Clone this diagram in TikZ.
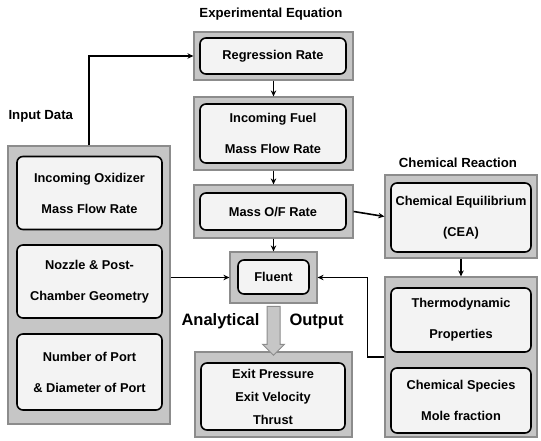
\documentclass[tikz,border=0pt]{standalone}
\usepackage{fontspec}
\setmainfont{Liberation Sans}
\usetikzlibrary{arrows.meta,positioning,shapes.arrows,calc}
\definecolor{bandc}{HTML}{C6C6C6}
\definecolor{bandl}{HTML}{8C8C8C}
\definecolor{cellc}{HTML}{F3F3F3}
\tikzset{
  band/.style={rectangle, draw=bandl, line width=1.2pt, fill=bandc, inner sep=0pt},
  cell/.style={rectangle, rounded corners=6pt, draw=black, line width=1.6pt, fill=cellc,
    align=center, inner sep=0pt, font=\bfseries\fontsize{12.8}{31}\selectfont},
  head/.style={font=\bfseries\fontsize{13.2}{15}\selectfont},
  tag/.style={font=\bfseries\fontsize{16.5}{18}\selectfont},
  link/.style={-{Stealth[length=6pt,width=5.5pt]}, line width=1.6pt},
  fat/.style={single arrow, draw=bandl, fill=bandc, line width=1pt, inner sep=6pt,
    single arrow head extend=4.5pt, single arrow head indent=0pt, shape border rotate=270},
}

\begin{document}
\begin{tikzpicture}[x=1pt, y=-1pt]
  \useasboundingbox (0,0) rectangle (541,441);
  % grey frames
  \node[band, minimum width=162, minimum height=278] (inp) at (89,285) {};
  \node[band, minimum width=159, minimum height=48] (rrB) at (273.5,56) {};
  \node[band, minimum width=159, minimum height=73] (fuelB) at (273.5,133.5) {};
  \node[band, minimum width=159, minimum height=53] (ofB) at (273.5,211.5) {};
  \node[band, minimum width=87, minimum height=51] (fluB) at (273.5,277.5) {};
  \node[band, minimum width=157, minimum height=85] (outB) at (273.5,394.5) {};
  \node[band, minimum width=152, minimum height=83] (ceqB) at (461,216.5) {};
  \node[band, minimum width=152, minimum height=160] (thB) at (461,357) {};
  % boxes
  \node[cell, minimum width=145, minimum height=73] (oxi) at (89.5,193) {Incoming Oxidizer\\Mass Flow Rate};
  \node[cell, minimum width=145, minimum height=73] (noz) at (89.5,281.5) {Nozzle \& Post-\\Chamber Geometry};
  \node[cell, minimum width=145, minimum height=76] (port) at (89.5,372) {Number of Port\\\& Diameter of Port};
  \node[cell, minimum width=146, minimum height=36] (rr) at (273,56) {Regression Rate};
  \node[cell, minimum width=146, minimum height=59] (fuel) at (273,133.5) {Incoming Fuel\\Mass Flow Rate};
  \node[cell, minimum width=146, minimum height=37] (of) at (273,211.5) {Mass O/F Rate};
  \node[cell, minimum width=71, minimum height=34] (flu) at (273.5,277) {Fluent};
  \node[cell, minimum width=144, minimum height=67, font=\bfseries\fontsize{12.8}{23}\selectfont] (out) at (273,396.5) {Exit Pressure\\Exit Velocity\\Thrust};
  \node[cell, minimum width=140, minimum height=69] (ceq) at (461,217.5) {Chemical Equilibrium\\(CEA)};
  \node[cell, minimum width=140, minimum height=64] (th) at (461,320) {Thermodynamic\\Properties};
  \node[cell, minimum width=140, minimum height=65] (spc) at (461,400.5) {Chemical Species\\Mole fraction};
  % titles
  \node[head] (tExp) at (271,14) {Experimental Equation};
  \node[head, anchor=west] (tInp) at (5,116) {Input Data};
  \node[head] (tChem) at (458,163) {Chemical Reaction};
  \node[tag, anchor=east] (tAna) at (263,321) {Analytical};
  \node[tag, anchor=west] (tOut) at (286,321) {Output};
  % connectors
  \node[fat, minimum height=49] (fa) at ($(fluB.south)!0.5!(outB.north)$) {};
  \draw[link] (inp.north) |- (rrB.west);
  \foreach \a/\b in {rrB/fuelB, fuelB/ofB, ofB/fluB, ceqB/thB}
    \draw[link] (\a.south) -- (\b.north);
  \draw[link] (ofB.east) -- (ceqB.west);
  \draw[link] (inp.east |- fluB.west) -- (fluB.west);
  \draw[link] (thB.west) -- ++(-17,0) |- (fluB.east);
\end{tikzpicture}
\end{document}
